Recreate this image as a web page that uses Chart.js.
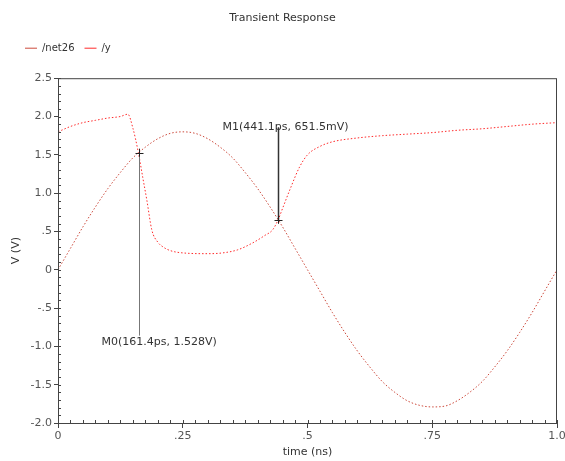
<!DOCTYPE html>
<html>
<head>
<meta charset="utf-8">
<script src="https://cdn.jsdelivr.net/npm/chart.js@4.4.1/dist/chart.umd.min.js"></script>
<style>
  html, body { margin: 0; padding: 0; background: #fff; }
  #wrap { width: 565px; height: 461px; }
</style>
</head>
<body>
<div id="wrap"><canvas id="tranChart" width="565" height="461"></canvas></div>
<script>
// datos
const sineTimes = [0, 0.025, 0.05, 0.075, 0.1, 0.125, 0.15, 0.175, 0.2, 0.225, 0.25,
  0.275, 0.3, 0.325, 0.35, 0.375, 0.4, 0.425, 0.45, 0.475, 0.5,
  0.525, 0.55, 0.575, 0.6, 0.625, 0.65, 0.675, 0.7, 0.725, 0.75,
  0.775, 0.8, 0.825, 0.85, 0.875, 0.9, 0.925, 0.95, 0.975, 1.0]
const sineVolts = [0, 0.28, 0.56, 0.82, 1.06, 1.27, 1.46, 1.6, 1.71, 1.78, 1.8,
  1.78, 1.71, 1.6, 1.46, 1.27, 1.06, 0.82, 0.56, 0.28, 0,
  -0.28, -0.56, -0.82, -1.06, -1.27, -1.46, -1.6, -1.71, -1.77, -1.79,
  -1.78, -1.71, -1.6, -1.46, -1.27, -1.06, -0.82, -0.56, -0.28, 0]

const outTimes = [0, 0.025, 0.05, 0.075, 0.1, 0.125, 0.14, 0.15, 0.161, 0.17, 0.178, 0.188,
  0.2, 0.21, 0.225, 0.25, 0.3, 0.33, 0.36, 0.39, 0.415, 0.43, 0.441, 0.45, 0.465, 0.484,
  0.5, 0.525, 0.55, 0.6, 0.65, 0.7, 0.75, 0.8, 0.85, 0.9, 0.95, 1.0]
const outVolts = [1.8, 1.87, 1.92, 1.95, 1.98, 2.0, 2.03, 1.85, 1.53, 1.2, 0.91, 0.52,
  0.36, 0.3, 0.25, 0.22, 0.21, 0.22, 0.26, 0.35, 0.45, 0.52, 0.65, 0.8, 1.05, 1.34,
  1.5, 1.61, 1.67, 1.72, 1.75, 1.77, 1.79, 1.82, 1.84, 1.87, 1.9, 1.92]

const seriesNames = ['/net26', '/y']
const xTickLabels = {0: '0', 0.25: '.25', 0.5: '.5', 0.75: '.75', 1: '1.0'}

const markerNames = ['M0', 'M1']
const markerTimes = [0.1614, 0.4411]
const markerVolts = [1.528, 0.6515]
const markerTexts = ['M0(161.4ps, 1.528V)', 'M1(441.1ps, 651.5mV)']

const FONT = 'DejaVu Sans'
Chart.defaults.font.family = FONT
Chart.defaults.font.size = 11
Chart.defaults.color = '#444'

const toPoints = (xs, ys) => xs.map((x, i) => ({x, y: ys[i]}))

const fmtY = v => {
  if (v === 0) return '0'
  const a = Math.abs(v)
  const s = a < 1 ? '.5' : a.toFixed(1)
  return (v < 0 ? '-' : '') + s
}

// la leyenda necesita mas espacio debajo
const legendSpace = {
  id: 'legendSpace',
  beforeInit(chart) {
    const lg = chart.legend
    const origFit = lg.fit
    lg.fit = function () {
      origFit.call(this)
      this.height += 15
    }
  }
}

// marco, ticks menores y marcadores
const decoPlugin = {
  id: 'deco',
  afterDatasetsDraw(chart, args, opts) {
    const {ctx, chartArea: a, scales: {x, y}} = chart
    ctx.save()
    ctx.strokeStyle = '#444'
    ctx.lineWidth = 1
    ctx.strokeRect(a.left + 0.5, a.top + 0.5, a.right - a.left - 1, a.bottom - a.top)
    ctx.beginPath()
    for (let v = -2; v <= 2.5001; v += 0.1) {
      const py = Math.round(y.getPixelForValue(v)) + 0.5
      ctx.moveTo(a.left, py); ctx.lineTo(a.left + 3, py)
    }
    for (let t = 0; t <= 1.0001; t += 0.025) {
      const px = Math.round(x.getPixelForValue(t)) + 0.5
      ctx.moveTo(px, a.bottom); ctx.lineTo(px, a.bottom - 3)
    }
    ctx.stroke()

    ctx.font = '11px ' + FONT
    ctx.textBaseline = 'middle'
    markerNames.forEach((n, i) => {
      const m = opts.markers[i]
      const px = Math.round(x.getPixelForValue(markerTimes[i])) + 0.5
      const py = y.getPixelForValue(markerVolts[i])
      const ly = y.getPixelForValue(m.lineTo)
      ctx.strokeStyle = m.color
      ctx.lineWidth = m.width
      ctx.beginPath()
      ctx.moveTo(px, py); ctx.lineTo(px, ly)
      ctx.stroke()
      ctx.strokeStyle = '#222'
      ctx.lineWidth = 1
      ctx.beginPath()
      ctx.moveTo(px - 4, Math.round(py) + 0.5); ctx.lineTo(px + 4, Math.round(py) + 0.5)
      ctx.moveTo(px, py - 4); ctx.lineTo(px, py + 4)
      ctx.stroke()
      ctx.fillStyle = '#333'
      ctx.fillText(markerTexts[i], px + m.dx, y.getPixelForValue(m.textAt))
    })
    ctx.restore()
  }
}

const renderChart = () => {
  const data = {
    datasets: [{
      label: seriesNames[0],
      data: toPoints(sineTimes, sineVolts),
      borderColor: '#cc4a3c',
      backgroundColor: '#cc4a3c',
      borderWidth: 1,
      borderDash: [1.5, 2],
      pointRadius: 0,
      cubicInterpolationMode: 'monotone'
    }, {
      label: seriesNames[1],
      data: toPoints(outTimes, outVolts),
      borderColor: '#ff2a2a',
      backgroundColor: '#ff2a2a',
      borderWidth: 1,
      borderDash: [1.5, 2],
      pointRadius: 0,
      cubicInterpolationMode: 'monotone'
    }]
  }

  const options = {
    responsive: false,
    animation: false,
    layout: {padding: {left: 0, right: 0, top: 0, bottom: 0}},
    plugins: {
      title: {
        display: true,
        text: 'Transient Response',
        color: '#333',
        font: {size: 11, weight: 'normal'},
        padding: {top: 12, bottom: 8}
      },
      legend: {
        position: 'top',
        align: 'start',
        labels: {
          usePointStyle: true,
          pointStyle: 'line',
          pointStyleWidth: 12,
          boxHeight: 1,
          padding: 10,
          color: '#333',
          font: {size: 10}
        }
      },
      tooltip: {enabled: false},
      deco: {
        markers: [
          {lineTo: -0.86, textAt: -0.95, dx: -38, color: '#777', width: 1},
          {lineTo: 1.86, textAt: 1.86, dx: -56, color: '#333', width: 1.5}
        ]
      }
    },
    scales: {
      x: {
        type: 'linear',
        min: 0,
        max: 1,
        afterFit: s => { s.height = 38; s.paddingRight = 8 },
        border: {display: true, color: '#444'},
        grid: {display: true, drawOnChartArea: false, drawTicks: true, tickLength: 5, color: '#444'},
        ticks: {
          stepSize: 0.25,
          padding: 2,
          color: '#555',
          callback: v => xTickLabels[v] ?? ''
        },
        title: {display: true, text: 'time (ns)', color: '#333', padding: {top: 0, bottom: 2}}
      },
      y: {
        min: -2,
        max: 2.5,
        afterFit: s => { s.width = 58 },
        border: {display: true, color: '#444'},
        grid: {display: true, drawOnChartArea: false, drawTicks: true, tickLength: 4, color: '#444'},
        ticks: {
          stepSize: 0.5,
          padding: 2,
          color: '#555',
          callback: v => fmtY(v)
        },
        title: {display: true, text: 'V (V)', color: '#333', padding: {top: 10, bottom: 4}}
      }
    }
  }

  const chart = new Chart('tranChart', {type: 'line', data, options, plugins: [legendSpace, decoPlugin]})
  // mover la leyenda a la derecha como en el original
  const lg = chart.legend
  const origDraw = lg.draw
  lg.draw = function () {
    this.ctx.save()
    this.ctx.translate(15, 0)
    origDraw.call(this)
    this.ctx.restore()
  }
  chart.draw()
}

renderChart()
</script>
</body>
</html>
